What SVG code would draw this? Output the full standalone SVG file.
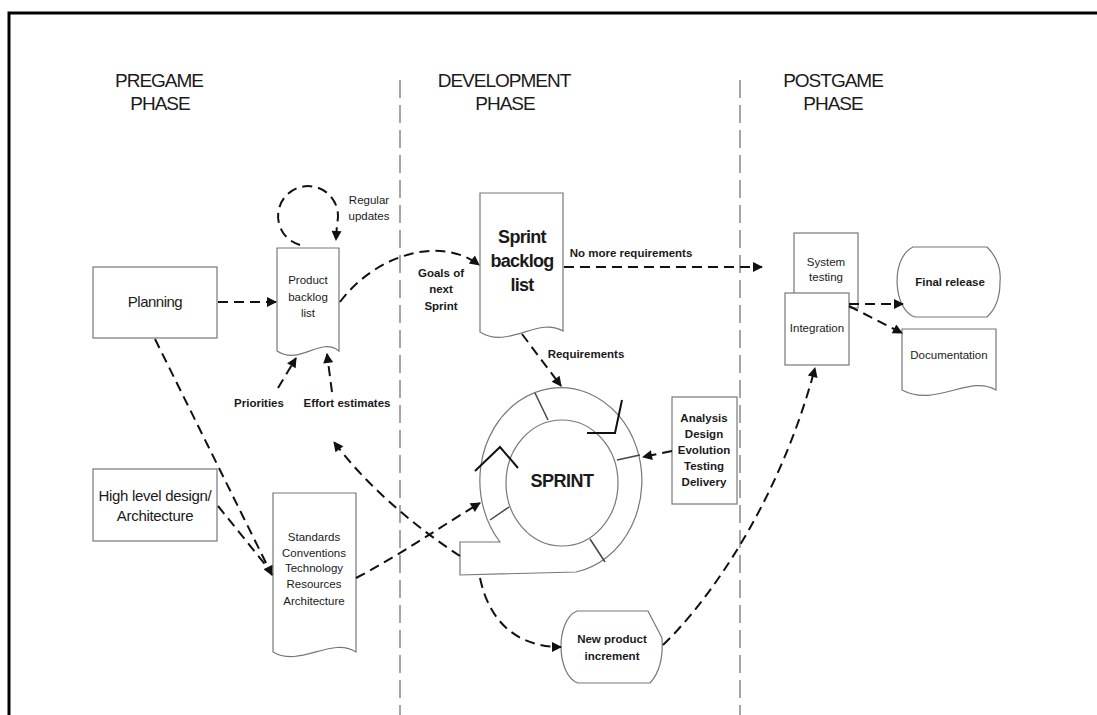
<svg xmlns="http://www.w3.org/2000/svg" width="1097" height="715" viewBox="0 0 1097 715">
<style>
text{font-family:"Liberation Sans",Arial,sans-serif;fill:#1a1a1a;text-anchor:middle}
.t{font-size:11.5px}
.b{font-size:11.5px;font-weight:bold}
.ph{font-size:19px;letter-spacing:-1px}
.big{font-size:15px;letter-spacing:-0.3px}
.box{fill:#fff;stroke:#777;stroke-width:1.2}
.sep{fill:none;stroke:#888;stroke-width:1.5;stroke-dasharray:18 7}
.con{fill:none;stroke:#111;stroke-width:2;stroke-dasharray:10 6}
.sp{fill:none;stroke:#777;stroke-width:1.2}
.div{stroke:#444;stroke-width:1.5}
.mk{fill:none;stroke:#111;stroke-width:2}
</style>
<defs>
<marker id="ah" viewBox="0 0 10 10" refX="9" refY="5" markerWidth="13" markerHeight="10" markerUnits="userSpaceOnUse" orient="auto">
<path d="M0,0 L10,5 L0,10 z" fill="#111"/>
</marker>
</defs>
<rect width="1097" height="715" fill="#fff"/>
<rect x="9" y="13" width="1110" height="730" fill="none" stroke="#000" stroke-width="3"/>

<g id="phases">
<text class="ph" x="159" y="87">PREGAME</text>
<text class="ph" x="160" y="110">PHASE</text>
<text class="ph" x="504" y="87">DEVELOPMENT</text>
<text class="ph" x="505" y="110">PHASE</text>
<text class="ph" x="833" y="87">POSTGAME</text>
<text class="ph" x="833" y="110">PHASE</text>
<line class="sep" x1="400" y1="80" x2="400" y2="715"/>
<line class="sep" x1="740" y1="80" x2="740" y2="715"/>
</g>

<g id="planning">
<rect class="box" x="93" y="267" width="124" height="71"/>
<text class="big" x="155" y="307" style="letter-spacing:-0.5px">Planning</text>
</g>

<g id="high-level-design">
<rect class="box" x="93" y="469" width="124" height="72"/>
<text class="big" x="155" y="501">High level design/</text>
<text class="big" x="155" y="521">Architecture</text>
</g>

<g id="product-backlog">
<path class="box" d="M277,248 L339,248 L339,351 C320,336 300,366 277,351 Z"/>
<text class="t" x="308" y="284">Product</text>
<text class="t" x="308" y="301">backlog</text>
<text class="t" x="308" y="317">list</text>
</g>

<g id="standards">
<path class="box" d="M273,493 L356,493 L356,652 C332,636 300,668 273,652 Z"/>
<text class="t" x="314" y="541">Standards</text>
<text class="t" x="314" y="557">Conventions</text>
<text class="t" x="314" y="572">Technology</text>
<text class="t" x="314" y="588">Resources</text>
<text class="t" x="314" y="605">Architecture</text>
</g>

<g id="sprint-backlog">
<path class="box" d="M480,193 L563,193 L563,331 C538,316 508,350 480,332 Z"/>
<text x="522" y="243" style="font-size:18px;font-weight:bold;letter-spacing:-0.7px">Sprint</text>
<text x="522" y="267" style="font-size:18px;font-weight:bold;letter-spacing:-0.7px">backlog</text>
<text x="522" y="291" style="font-size:18px;font-weight:bold;letter-spacing:-0.7px">list</text>
</g>

<g id="sprint">
<path class="sp" fill="#fff" d="M460,542 L500,542 A81 93 0 1 1 576,572 L460,575 Z" style="fill:#fff"/>
<ellipse class="sp" cx="562" cy="483" rx="56" ry="63"/>
<line class="div" x1="535" y1="393" x2="548" y2="420"/>
<line class="div" x1="617" y1="460" x2="640" y2="455"/>
<line class="div" x1="490" y1="520" x2="509" y2="507"/>
<line class="div" x1="590" y1="539" x2="605" y2="562"/>
<polyline class="mk" points="587,433 615,433 622,400"/>
<polyline class="mk" points="475,471 500,447 518,468"/>
<text x="562" y="487" style="font-size:18px;font-weight:bold;letter-spacing:-0.5px">SPRINT</text>
</g>

<g id="analysis">
<rect class="box" x="672" y="397" width="65" height="107"/>
<text class="b" x="704" y="422">Analysis</text>
<text class="b" x="704" y="438">Design</text>
<text class="b" x="704" y="454">Evolution</text>
<text class="b" x="704" y="470">Testing</text>
<text class="b" x="704" y="486">Delivery</text>
</g>

<g id="new-product-increment">
<path class="box" d="M577,611 L648,611 L662,638 Q664,668 650,683 L578,683 C556,675 555,620 577,611 Z"/>
<text class="b" x="612" y="643">New product</text>
<text class="b" x="612" y="660">increment</text>
</g>

<g id="system-testing">
<rect class="box" x="794" y="233" width="64" height="75"/>
<text class="t" x="826" y="266">System</text>
<text class="t" x="826" y="281">testing</text>
</g>

<g id="integration">
<rect class="box" x="785" y="293" width="64" height="72"/>
<text class="t" x="817" y="332">Integration</text>
</g>

<g id="final-release">
<path class="box" d="M913,247 L987,247 Q1002,262 1000,282 Q1000,305 987,317 L915,317 C893,310 890,258 913,247 Z"/>
<text class="b" x="950" y="286">Final release</text>
</g>

<g id="documentation">
<path class="box" d="M902,329 L996,329 L996,390 C970,374 935,408 902,390 Z"/>
<text class="t" x="949" y="359">Documentation</text>
</g>

<g id="connectors">
<path class="con" d="M218,302 L276,302" marker-end="url(#ah)"/>
<path class="con" d="M300,245 A30 30 0 1 1 337,224 L336,240" marker-end="url(#ah)"/>
<path class="con" d="M340,302 C375,255 440,235 479,265" marker-end="url(#ah)"/>
<path class="con" d="M278,388 L296,358" marker-end="url(#ah)"/>
<path class="con" d="M332,392 L327,354" marker-end="url(#ah)"/>
<path class="con" d="M564,267 L762,267" marker-end="url(#ah)"/>
<path class="con" d="M522,334 L561,386" marker-end="url(#ah)"/>
<path class="con" d="M672,451 L643,457" marker-end="url(#ah)"/>
<path class="con" d="M356,578 C400,555 440,527 480,503" marker-end="url(#ah)"/>
<path class="con" d="M460,556 C420,530 370,490 334,442" marker-end="url(#ah)"/>
<path class="con" d="M480,578 C490,625 520,647 561,647" marker-end="url(#ah)"/>
<path class="con" d="M663,645 C710,600 780,500 815,368" marker-end="url(#ah)"/>
<path class="con" d="M849,304 L903,304" marker-end="url(#ah)"/>
<path class="con" d="M849,306 L902,333" marker-end="url(#ah)"/>
<path class="con" d="M155,339 L272,575" marker-end="url(#ah)"/>
<path class="con" d="M218,506 L268,568"/>
</g>

<g id="labels">
<text class="t" x="369" y="204">Regular</text>
<text class="t" x="369" y="220">updates</text>
<text class="b" x="259" y="407">Priorities</text>
<text class="b" x="347" y="407">Effort estimates</text>
<text class="b" x="441" y="277">Goals of</text>
<text class="b" x="441" y="293">next</text>
<text class="b" x="441" y="310">Sprint</text>
<text class="b" x="631" y="257">No more requirements</text>
<text class="b" x="586" y="358">Requirements</text>
</g>
</svg>
